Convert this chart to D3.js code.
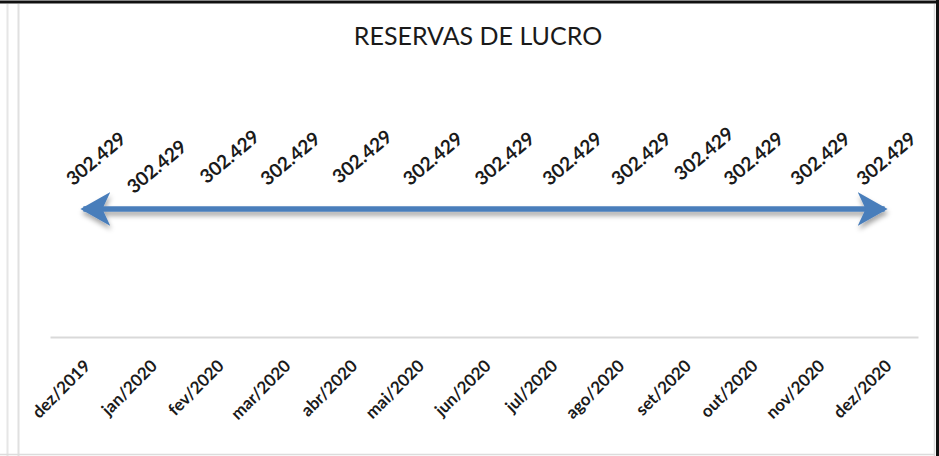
<!DOCTYPE html>
<html>
<head>
<meta charset="utf-8">
<script src="https://cdn.jsdelivr.net/npm/d3@7"></script>
<style>
  body { margin: 0; background: #fff; }
  svg { display: block; }
</style>
</head>
<body>
<div id="chart"></div>
<script>
// data
var months = ["dez/2019", "jan/2020", "fev/2020", "mar/2020", "abr/2020", "mai/2020", "jun/2020",
  "jul/2020", "ago/2020", "set/2020", "out/2020", "nov/2020", "dez/2020"];
var reservas = [302429, 302429, 302429, 302429, 302429, 302429, 302429,
  302429, 302429, 302429, 302429, 302429, 302429];
var yTicks = [0, 600000];

// label nudges (layout only)
var labelDx = [12, 6, 12, 6, 11, 15, 20, 21, 23, 19, 2, 2, 1];
var labelDy = [0, 8, -2, 0, -2, 0, 0, 0, 0, -5, 0, 0, 0];

var width = 939, height = 456;
var plotLeft = 50, plotRight = 918, plotTop = 83, plotBottom = 337;

var ptBR = d3.formatLocale({ decimal: ",", thousands: ".", grouping: [3], currency: ["R$", ""] });
var fmt = ptBR.format(",d");

var svg = d3.select("#chart").append("svg")
    .attr("width", width)
    .attr("height", height);

var defs = svg.append("defs");
// userSpaceOnUse since the line is flat (zero-height bbox)
var shadow = defs.append("filter")
    .attr("id", "shadow")
    .attr("filterUnits", "userSpaceOnUse")
    .attr("x", 40).attr("y", 160)
    .attr("width", 880).attr("height", 110);
shadow.append("feDropShadow")
    .attr("dx", 1).attr("dy", 4)
    .attr("stdDeviation", 2.5)
    .attr("flood-color", "#000")
    .attr("flood-opacity", 0.35);

// arrow heads
function head(id, flip) {
    defs.append("marker")
        .attr("id", id)
        .attr("viewBox", "0 0 30 34")
        .attr("refX", flip ? 3 : 27).attr("refY", 17)
        .attr("markerWidth", 30).attr("markerHeight", 34)
        .attr("markerUnits", "userSpaceOnUse")
        .attr("orient", "auto")
        .append("path")
        .attr("d", flip ? "M0,17 L30,0 L22,17 L30,34 Z" : "M30,17 L0,0 L8,17 L0,34 Z")
        .attr("fill", "#4a7ebb");
}
head("headEnd", false);
head("headStart", true);

// frame
svg.append("line").attr("x1", 0).attr("x2", width).attr("y1", 2).attr("y2", 2)
    .style("stroke", "#111").style("stroke-width", 3);
svg.append("line").attr("x1", 937.5).attr("x2", 937.5).attr("y1", 0).attr("y2", height)
    .style("stroke", "#111").style("stroke-width", 3);
svg.append("line").attr("x1", 934.5).attr("x2", 934.5).attr("y1", 4).attr("y2", height)
    .style("stroke", "#dcdcdc").style("stroke-width", 1.5);
svg.append("line").attr("x1", 7.5).attr("x2", 7.5).attr("y1", 4).attr("y2", height)
    .style("stroke", "#e6e6e6").style("stroke-width", 2);
svg.append("line").attr("x1", 18.5).attr("x2", 18.5).attr("y1", 4).attr("y2", height)
    .style("stroke", "#e0e0e0").style("stroke-width", 2);
svg.append("line").attr("x1", 0).attr("x2", 935).attr("y1", 454.5).attr("y2", 454.5)
    .style("stroke", "#dcdcdc").style("stroke-width", 1.5);

// title
svg.append("text")
    .attr("x", 478)
    .attr("y", 45)
    .attr("text-anchor", "middle")
    .text("RESERVAS DE LUCRO")
    .style("font-family", "Lato, 'Open Sans', sans-serif")
    .style("font-size", "25px")
    .style("fill", "#1a1a1a");

var x = d3.scaleBand()
    .domain(months)
    .range([plotLeft, plotRight]);

var y = d3.scaleLinear()
    .domain(d3.extent(yTicks))
    .range([plotBottom, plotTop]);

// category axis
var xAxis = svg.append("g")
    .attr("transform", "translate(0," + plotBottom + ")")
    .call(d3.axisBottom(x).tickSize(0).tickPadding(0));
xAxis.select(".domain")
    .attr("stroke", "#d9d9d9")
    .attr("stroke-width", 2);
xAxis.selectAll(".tick text")
    .attr("x", 0).attr("y", 0).attr("dy", null)
    .attr("text-anchor", "end")
    .attr("transform", "translate(8,30) rotate(-45)")
    .style("font-family", "Lato, 'Open Sans', sans-serif")
    .style("font-weight", "bold")
    .style("font-size", "17px")
    .style("fill", "#1a1a1a");

// line with arrows at both ends
var cx = function(d, i) { return x(months[i]) + x.bandwidth() / 2; };
var line = d3.line()
    .x(cx)
    .y(function(d) { return y(d); });

svg.append("path")
    .datum(reservas)
    .attr("d", line)
    .attr("fill", "none")
    .attr("stroke", "#4a7ebb")
    .attr("stroke-width", 5.5)
    .attr("marker-start", "url(#headStart)")
    .attr("marker-end", "url(#headEnd)")
    .attr("filter", "url(#shadow)");

// data labels
svg.append("g").selectAll("text")
    .data(reservas)
    .join("text")
    .attr("transform", function(d, i) {
        return "translate(" + (cx(d, i) + labelDx[i]) + "," + (y(d) - 51 + labelDy[i]) + ") rotate(-40)";
    })
    .attr("text-anchor", "middle")
    .attr("dominant-baseline", "central")
    .text(function(d) { return fmt(d); })
    .style("font-family", "Lato, 'Open Sans', sans-serif")
    .style("font-weight", "bold")
    .style("font-size", "19px")
    .style("fill", "#1a1a1a");
</script>
</body>
</html>
